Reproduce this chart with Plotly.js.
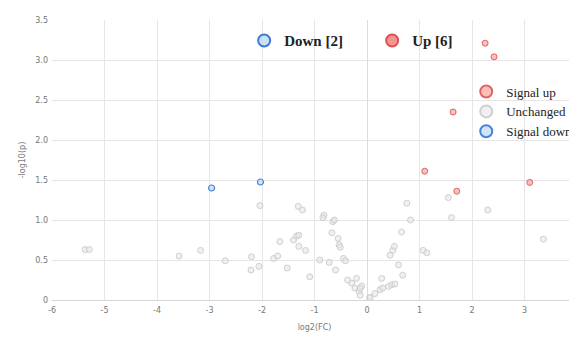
<!DOCTYPE html>
<html><head><meta charset="utf-8">
<script src="https://cdn.plot.ly/plotly-3.0.1.min.js"></script>
<style>html,body{margin:0;padding:0;overflow:hidden;background:#fff;}#plot{width:600px;height:338px;}</style>
</head><body><div id="plot"></div>
<script>
// Data
var grayX = [-5.37,-5.29,-3.58,-3.17,-2.70,-2.20,-2.21,-2.06,-2.04,-1.66,-1.78,-1.70,-1.52,-1.31,-1.23,-1.40,-1.34,-1.30,-1.30,-1.17,-1.09,-0.90,-0.82,-0.84,-0.65,-0.62,-0.67,-0.55,-0.53,-0.51,-0.72,-0.60,-0.45,-0.41,-0.37,-0.29,-0.23,-0.20,-0.15,-0.13,-0.10,0.05,-0.13,0.06,0.15,0.25,0.28,0.30,0.41,0.47,0.53,0.44,0.49,0.52,0.60,0.68,0.66,0.76,0.83,1.07,1.14,1.55,1.61,2.30,3.36];
var grayY = [0.63,0.63,0.55,0.62,0.49,0.54,0.375,0.42,1.18,0.73,0.52,0.55,0.40,1.17,1.125,0.75,0.80,0.81,0.67,0.62,0.29,0.50,1.06,1.03,0.98,1.0,0.84,0.77,0.69,0.66,0.47,0.375,0.52,0.49,0.25,0.21,0.15,0.27,0.11,0.06,0.175,0.03,0.15,0.03,0.08,0.13,0.27,0.15,0.17,0.19,0.20,0.56,0.62,0.67,0.44,0.31,0.85,1.21,1.0,0.62,0.59,1.28,1.03,1.125,0.76];
var upX = [2.25,2.42,1.64,1.10,1.71,3.10];
var upY = [3.21,3.04,2.35,1.61,1.36,1.47];
var downX = [-2.96,-2.03];
var downY = [1.40,1.475];
var xTickVals = [-6,-5,-4,-3,-2,-1,0,1,2,3];
var xTickText = ['-6','-5','-4','-3','-2','-1','0','1','2','3'];
var yTickVals = [0,0.5,1,1.5,2,2.5,3,3.5];
var yTickText = ['0','0.5','1.0','1.5','2.0','2.5','3.0','3.5'];
var seriesNames = ['Signal up','Unchanged','Signal down'];
var countNames = ['Down [' + downX.length + ']', 'Up [' + upX.length + ']'];

var upFill = 'rgba(242,130,124,0.85)', upLine = '#e05050';
var grayFill = 'rgba(225,225,225,0.8)', grayLine = '#c8c8c8';
var downFill = 'rgba(200,222,245,0.9)', downLine = '#3d7ad6';

var traces = [
  {x: upX, y: upY, name: seriesNames[0], type: 'scatter', mode: 'markers',
   marker: {size: 6, color: 'rgba(246,170,166,0.75)', line: {color: '#e06464', width: 1}}},
  {x: grayX, y: grayY, name: seriesNames[1], type: 'scatter', mode: 'markers',
   marker: {size: 6, color: 'rgba(232,232,232,0.65)', line: {color: 'rgba(200,200,200,0.85)', width: 1}}},
  {x: downX, y: downY, name: seriesNames[2], type: 'scatter', mode: 'markers',
   marker: {size: 6, color: 'rgba(205,224,245,0.9)', line: {color: '#4a82d8', width: 1.2}}},
  {x: [null], y: [null], name: countNames[0], type: 'scatter', mode: 'markers', legend: 'legend2',
   marker: {size: 12, color: downFill, line: {color: downLine, width: 1.5}}},
  {x: [null], y: [null], name: countNames[1], type: 'scatter', mode: 'markers', legend: 'legend2',
   marker: {size: 12, color: upFill, line: {color: upLine, width: 1.5}}}
];

var tickFont = {family: 'DejaVu Sans, sans-serif', size: 8, color: '#777'};
var layout = {
  width: 600, height: 338,
  margin: {l: 52, r: 23, t: 20, b: 38},
  paper_bgcolor: '#fff', plot_bgcolor: '#fff',
  showlegend: true,
  legend: {x: 0.789, y: 0.673, xanchor: 'left', yanchor: 'middle', bgcolor: 'rgba(0,0,0,0)',
    itemsizing: 'constant', font: {family: 'Liberation Serif, serif', size: 13, color: '#222'}},
  legend2: {x: 0.366, y: 0.926, xanchor: 'left', yanchor: 'middle', orientation: 'h',
    bgcolor: 'rgba(0,0,0,0)', entrywidth: 83, itemsizing: 'constant',
    font: {family: 'Liberation Serif, serif', size: 15, color: '#222', weight: 'bold'}},
  xaxis: {range: [-6, 4], tickvals: xTickVals, ticktext: xTickText,
    showgrid: true, gridcolor: '#e6e6e6', zeroline: true, zerolinecolor: '#dcdcdc',
    showline: false, ticks: '', ticklabelstandoff: 4, tickfont: tickFont,
    title: {text: 'log2(FC)', font: tickFont, standoff: 10}},
  yaxis: {range: [0, 3.5], tickvals: yTickVals, ticktext: yTickText,
    showgrid: true, gridcolor: '#e6e6e6', zeroline: true, zerolinecolor: '#d6d6d6',
    showline: false, ticks: '', ticklabelstandoff: 3, tickfont: tickFont,
    title: {text: '-log10(p)', font: tickFont, standoff: 8}}
};

Plotly.newPlot('plot', traces, layout, {displayModeBar: false, staticPlot: true});
</script>
</body></html>
